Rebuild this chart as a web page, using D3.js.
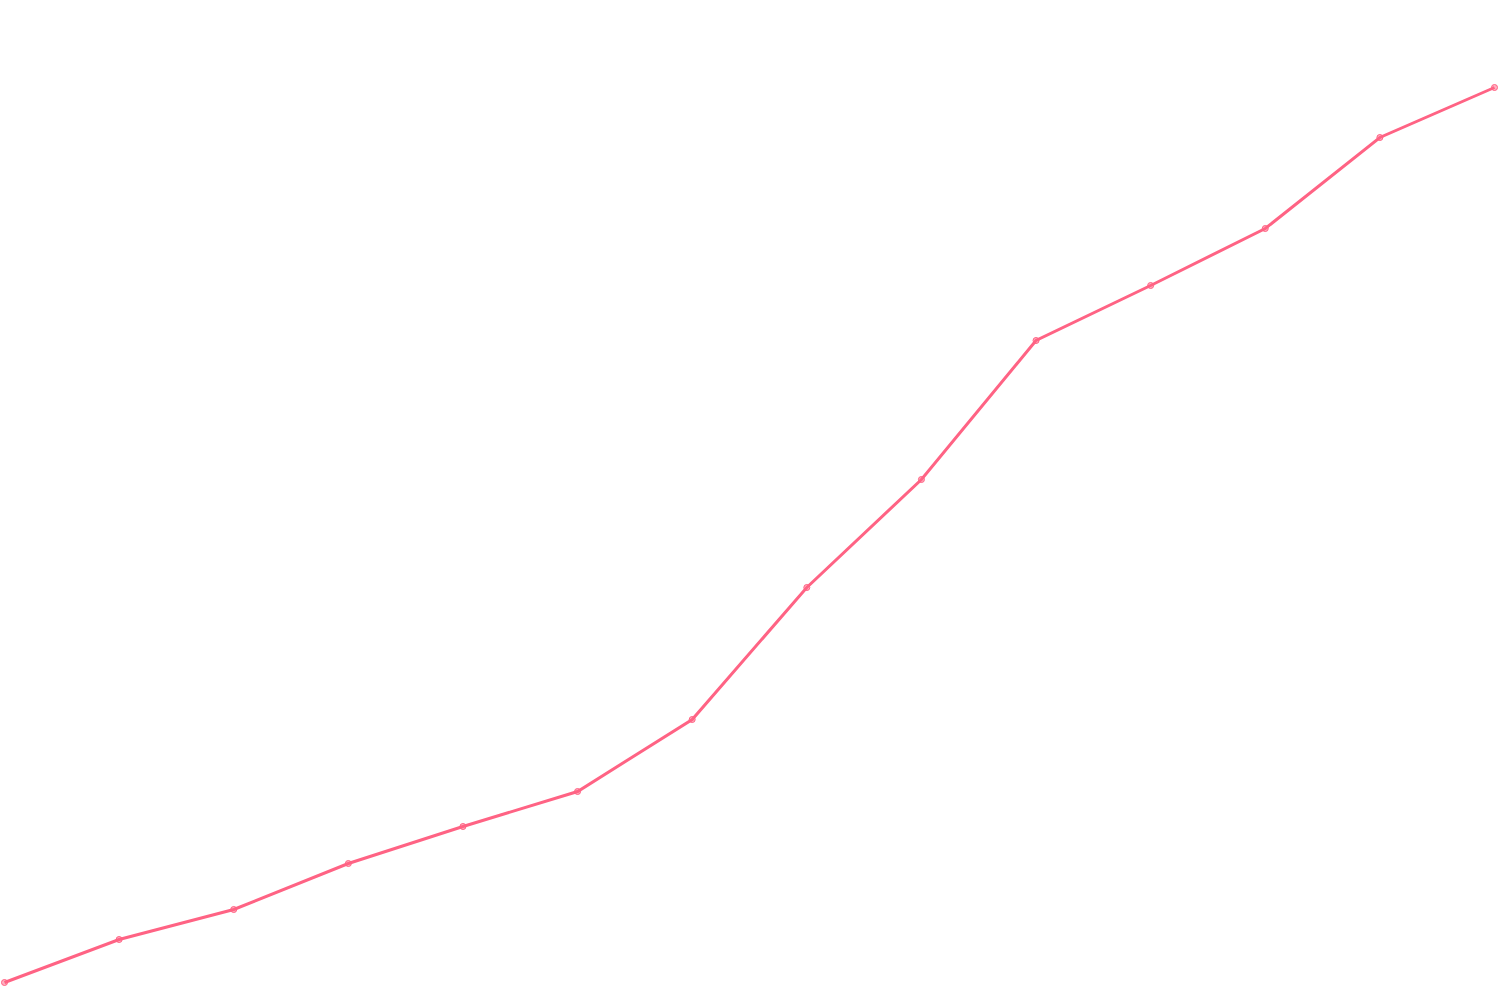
<!DOCTYPE html>
<html lang="en">
  <head>
    <meta charset="UTF-8" />
    <title>Line chart</title>
    <style>
      html, body { margin: 0; padding: 0; background: #fff; }
      #chart { width: 1500px; height: 1000px; }
    </style>
  </head>
  <body>
    <div id="chart"></div>
    <script src="https://d3js.org/d3.v7.min.js"></script>
    <script>
      const labels = d3.range(14).map((i) => `P${i + 1}`);
      const values = [0, 43, 73, 119, 156, 191, 263, 395, 503, 642, 697, 754, 845, 895];

      const width = 1500;
      const height = 1000;
      const margin = { top: 87.5, right: 5.5, bottom: 17.5, left: 4.5 };

      const svg = d3
        .select('#chart')
        .append('svg')
        .attr('width', width)
        .attr('height', height);

      const x = d3
        .scalePoint()
        .domain(labels)
        .range([margin.left, width - margin.right]);

      const y = d3
        .scaleLinear()
        .domain([d3.min(values), d3.max(values)])
        .range([height - margin.bottom, margin.top]);

      const data = labels.map((l, i) => ({ label: l, value: values[i] }));

      const line = d3
        .line()
        .x((d) => x(d.label))
        .y((d) => y(d.value));

      svg
        .append('path')
        .datum(data)
        .attr('fill', 'none')
        .attr('stroke', 'rgb(255, 99, 132)')
        .attr('stroke-width', 3)
        .attr('stroke-linejoin', 'miter')
        .attr('d', line);

      svg
        .selectAll('.pt')
        .data(data)
        .enter()
        .append('circle')
        .attr('class', 'pt')
        .attr('cx', (d) => x(d.label))
        .attr('cy', (d) => y(d.value))
        .attr('r', 3)
        .attr('fill', 'rgba(255, 99, 132, 0.5)')
        .attr('stroke', 'rgb(255, 99, 132)')
        .attr('stroke-width', 1);
    </script>
  </body>
</html>
